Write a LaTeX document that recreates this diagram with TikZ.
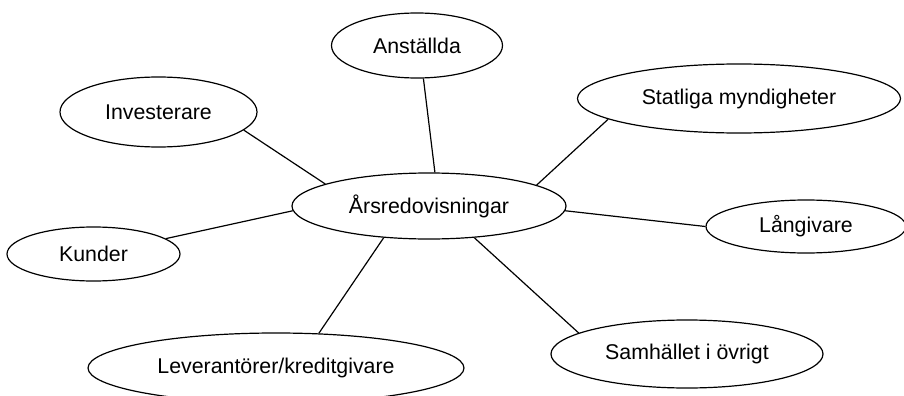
\documentclass[tikz,border=0pt]{standalone}
\usepackage{fontspec}
\setmainfont{Liberation Sans}
\usetikzlibrary{shapes.geometric}
\begin{document}
\begin{tikzpicture}[x=0.75pt,y=-0.75pt,
  ell/.style={ellipse,draw,line width=0.9pt,inner sep=0pt,font=\fontsize{16}{19}\selectfont},
  conn/.style={line width=0.9pt}]
\clip (0,0) rectangle (904,396);
\fill[white] (0,0) rectangle (904,396);
\node[ell,minimum width=128.25pt,minimum height=48.75pt] (anst) at (417,45.5) {Anställda};
\node[ell,minimum width=147.75pt,minimum height=52.5pt] (inv) at (158.5,112) {Investerare};
\node[ell,minimum width=242.25pt,minimum height=51.75pt] (stat) at (739,98.5) {Statliga myndigheter};
\node[ell,minimum width=205.5pt,minimum height=49.5pt] (ars) at (429,206) {Årsredovisningar};
\node[ell,minimum width=150pt,minimum height=39.75pt] (lang) at (806,226.5) {Långivare};
\node[ell,minimum width=129.75pt,minimum height=40.5pt] (kund) at (93.5,254) {Kunder};
\node[ell,minimum width=204pt,minimum height=51pt] (samh) at (687,354) {Samhället i övrigt};
\node[ell,minimum width=282pt,minimum height=52.5pt] (lev) at (276,368) {Leverantörer/kreditgivare};
\draw[conn] (anst.-79.2) -- (ars.80);
\draw[conn] (inv.-12.8) -- (ars.168.3);
\draw[conn] (stat.189.1) -- (ars.11.3);
\draw[conn] (lang.180) -- (ars.-2.9);
\draw[conn] (kund.12.4) -- (ars.182.9);
\draw[conn] (lev.39.8) -- (ars.215.7);
\draw[conn] (samh.169.1) -- (ars.-35.7);
\end{tikzpicture}
\end{document}
